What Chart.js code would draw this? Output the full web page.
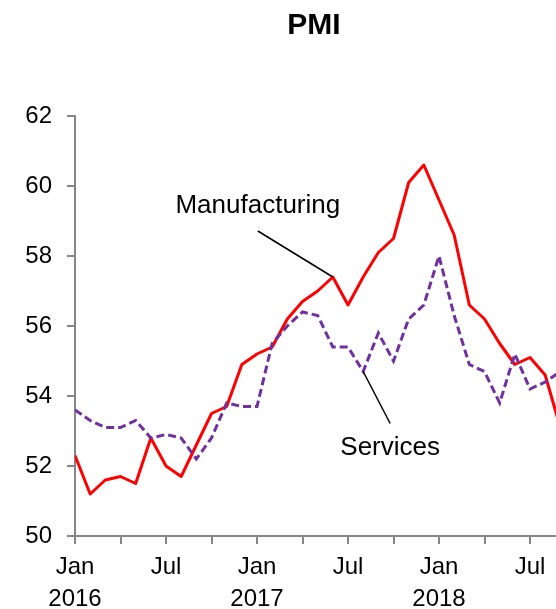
<!DOCTYPE html>
<html>
<head>
<meta charset="utf-8">
<title>PMI</title>
<script src="https://cdn.jsdelivr.net/npm/chart.js@4.4.1/dist/chart.umd.min.js"></script>
<style>
  html, body { margin: 0; padding: 0; background: #fff; overflow: hidden; }
  #wrap { position: relative; width: 628px; height: 615px; }
</style>
</head>
<body>
<div id="wrap"><canvas id="pmiChart" width="628" height="615"></canvas></div>
<script>
const FONT = '"Liberation Sans", Arial, sans-serif';

// monthly readings, Jan 2016 .. Sep 2018
const months = [
  "Jan 2016", "Feb 2016", "Mar 2016", "Apr 2016", "May 2016", "Jun 2016",
  "Jul 2016", "Aug 2016", "Sep 2016", "Oct 2016", "Nov 2016", "Dec 2016",
  "Jan 2017", "Feb 2017", "Mar 2017", "Apr 2017", "May 2017", "Jun 2017",
  "Jul 2017", "Aug 2017", "Sep 2017", "Oct 2017", "Nov 2017", "Dec 2017",
  "Jan 2018", "Feb 2018", "Mar 2018", "Apr 2018", "May 2018", "Jun 2018",
  "Jul 2018", "Aug 2018", "Sep 2018",
];
const manufacturing = [
  52.3, 51.2, 51.6, 51.7, 51.5, 52.8, 52.0, 51.7, 52.6, 53.5, 53.7, 54.9,
  55.2, 55.4, 56.2, 56.7, 57.0, 57.4, 56.6, 57.4, 58.1, 58.5, 60.1, 60.6,
  59.6, 58.6, 56.6, 56.2, 55.5, 54.9, 55.1, 54.6, 53.1,
];
const services = [
  53.6, 53.3, 53.1, 53.1, 53.3, 52.8, 52.9, 52.8, 52.2, 52.8, 53.8, 53.7,
  53.7, 55.5, 56.0, 56.4, 56.3, 55.4, 55.4, 54.7, 55.8, 55.0, 56.2, 56.6,
  58.0, 56.3, 54.9, 54.7, 53.8, 55.2, 54.2, 54.4, 54.7,
];
const yTicks = [50, 52, 54, 56, 58, 60, 62];

const toPoints = (arr) => arr.map((v, i) => ({ x: i, y: v }));

// the month axis runs on past the last reading, out of the visible frame
const X_MAX = 36.4;

// draws the series names with a thin leader line to a point on the series
const leaderLabels = {
  id: "leaderLabels",
  afterDatasetsDraw(chart, args, opts) {
    const { ctx, scales: { x, y } } = chart;
    ctx.save();
    ctx.font = `26px ${FONT}`;
    ctx.fillStyle = "#000";
    ctx.strokeStyle = "#000";
    ctx.lineWidth = 1.5;
    ctx.textAlign = "center";
    ctx.textBaseline = "alphabetic";
    opts.items.forEach((item) => {
      const pt = chart.data.datasets[item.dataset].data[item.index];
      const px = x.getPixelForValue(pt.x);
      const py = y.getPixelForValue(pt.y);
      ctx.beginPath();
      ctx.moveTo(px + item.line[0], py + item.line[1]);
      ctx.lineTo(px, py);
      ctx.stroke();
      ctx.fillText(item.text, px + item.label[0], py + item.label[1]);
    });
    ctx.restore();
  },
};

const axisGrey = "#868686";

new Chart(document.getElementById("pmiChart"), {
  type: "line",
  data: {
    datasets: [
      {
        label: "Manufacturing",
        data: toPoints(manufacturing),
        borderColor: "#ff0000",
        borderWidth: 3,
        borderJoinStyle: "round",
        pointRadius: 0,
        tension: 0,
        order: 1,
      },
      {
        label: "Services",
        data: toPoints(services),
        borderColor: "#7030a0",
        borderWidth: 3,
        borderDash: [8, 4],
        pointRadius: 0,
        tension: 0,
        order: 0,
      },
    ],
  },
  options: {
    responsive: false,
    animation: false,
    devicePixelRatio: 1,
    layout: { padding: 0 },
    plugins: {
      legend: { display: false },
      tooltip: { enabled: false },
      title: {
        display: true,
        text: "PMI",
        color: "#000",
        font: { family: FONT, size: 30, weight: "bold" },
        padding: { top: 8, bottom: 72 },
      },
      leaderLabels: {
        items: [
          { text: "Manufacturing", dataset: 0, index: 17, label: [-75, -64], line: [-75, -46] },
          { text: "Services", dataset: 1, index: 19, label: [27, 83], line: [27, 52] },
        ],
      },
    },
    scales: {
      x: {
        type: "linear",
        min: 0,
        max: X_MAX,
        border: { color: axisGrey, width: 2 },
        grid: { drawOnChartArea: false, drawTicks: true, tickLength: 8, color: axisGrey, lineWidth: 2 },
        ticks: {
          autoSkip: false,
          maxRotation: 0,
          padding: 7,
          color: "#000",
          font: { family: FONT, size: 24, lineHeight: 32 / 24 },
          callback: (value) => {
            const m = months[value];
            if (!m) return "";
            const [name, year] = m.split(" ");
            if (name === "Jan") return [name, year];
            if (name === "Jul") return [name];
            return "";
          },
        },
        // a tick every quarter
        afterBuildTicks: (scale) => {
          const t = [];
          for (let i = 0; i <= X_MAX; i += 3) t.push({ value: i });
          scale.ticks = t;
        },
        afterFit: (scale) => { scale.height = 79; },
      },
      y: {
        min: yTicks[0],
        max: yTicks[yTicks.length - 1],
        border: { color: axisGrey, width: 2 },
        grid: { drawOnChartArea: false, drawTicks: true, tickLength: 8, color: axisGrey, lineWidth: 2 },
        ticks: {
          padding: 15,
          color: "#000",
          font: { family: FONT, size: 24 },
        },
        afterBuildTicks: (scale) => { scale.ticks = yTicks.map((v) => ({ value: v })); },
        afterFit: (scale) => { scale.width = 75; },
      },
    },
  },
  plugins: [leaderLabels],
});
</script>
</body>
</html>
